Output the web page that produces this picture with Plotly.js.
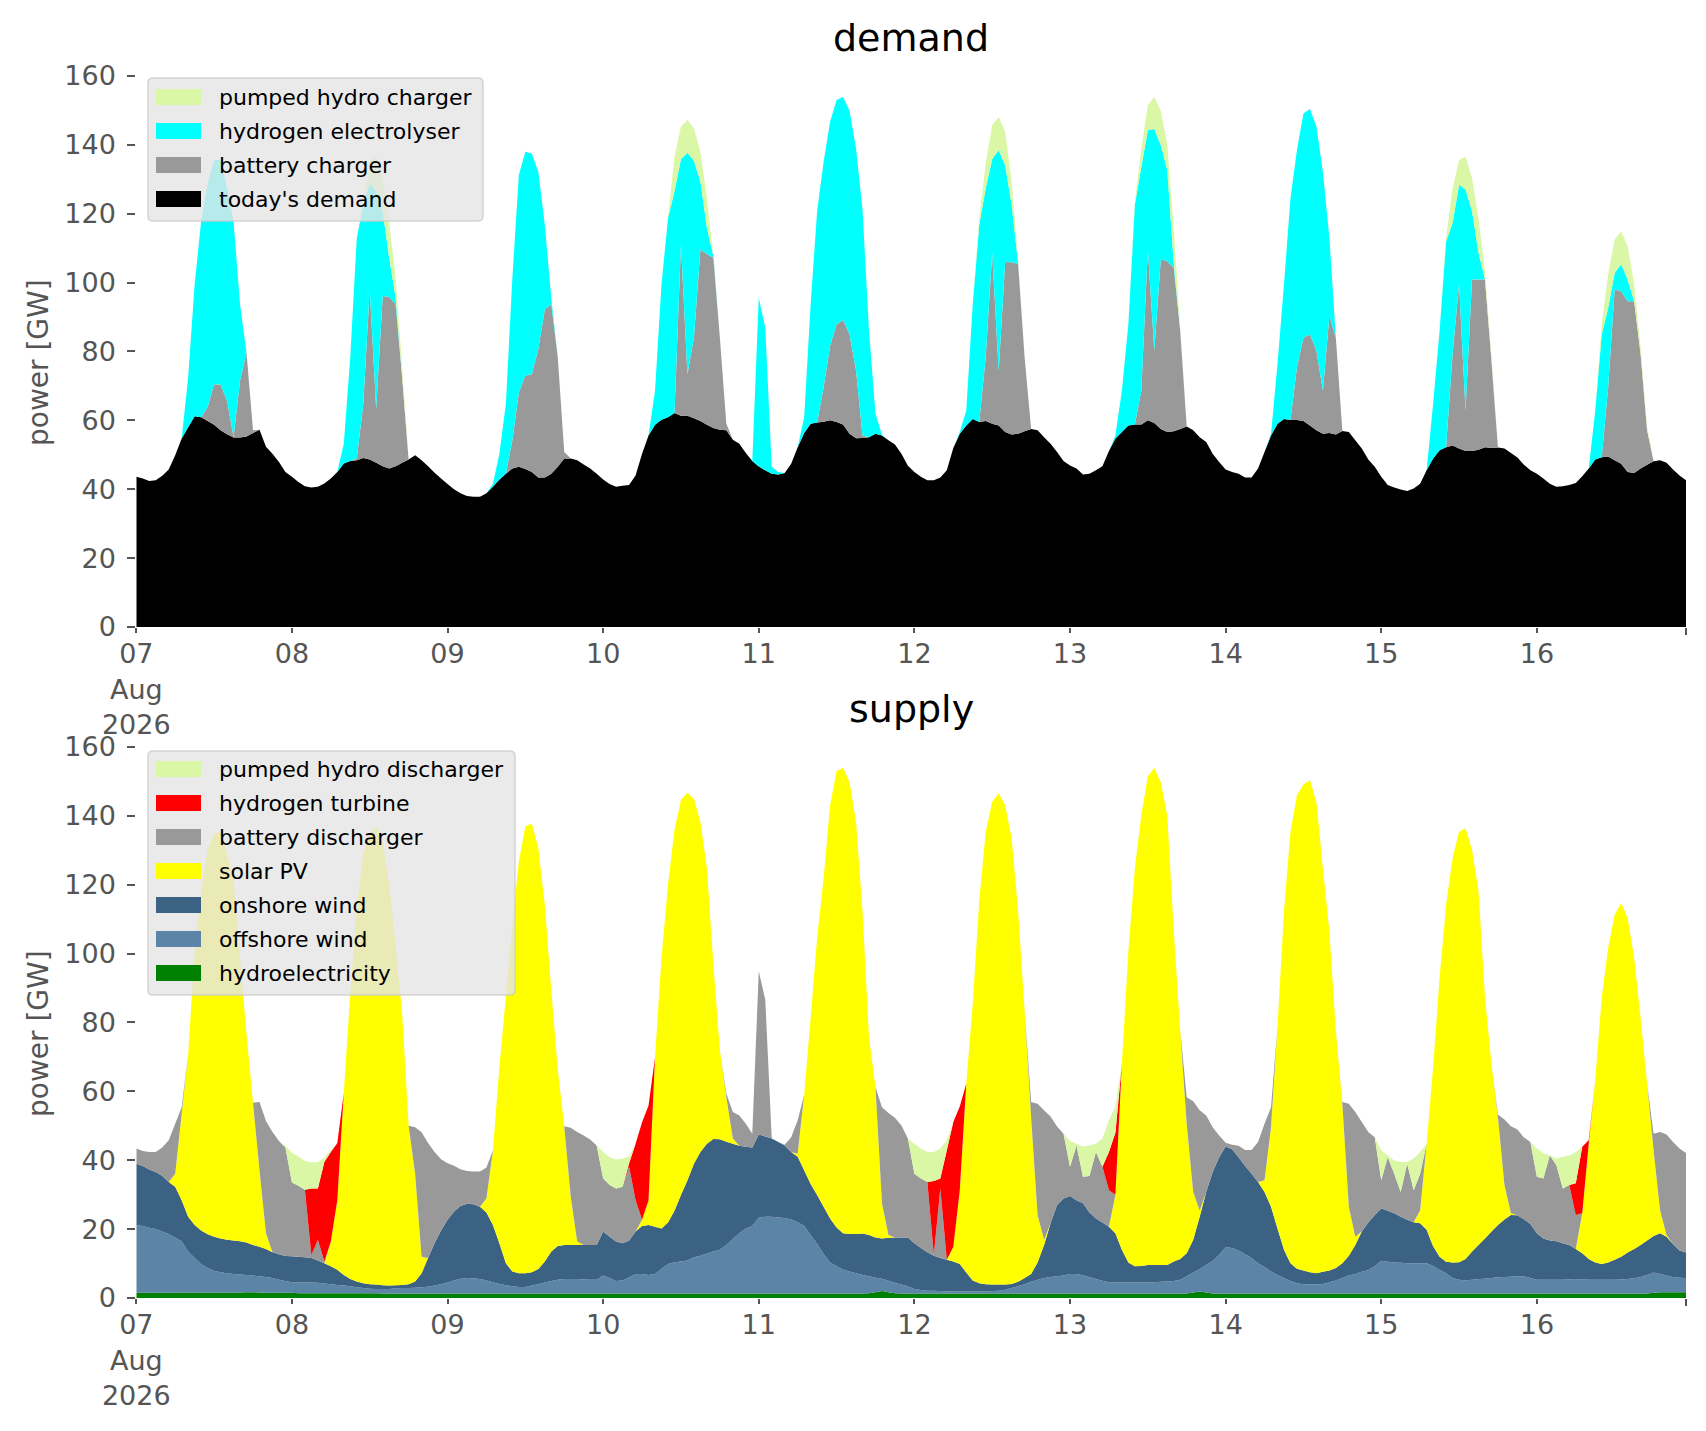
<!DOCTYPE html>
<html>
<head>
<meta charset="utf-8">
<script src="https://cdn.plot.ly/plotly-3.0.1.min.js"></script>
<style>
  html, body { margin: 0; padding: 0; background: #ffffff; }
  #chart { width: 1706px; height: 1431px; }
</style>
</head>
<body>
<div id="chart"></div>
<script>
// --- DATA: hourly values, 07 Aug 2026 00:00 .. 16 Aug 2026 23:00 (GW) ---
const startDay = '2026-08-07';
const dayTicks = ['2026-08-07', '2026-08-08', '2026-08-09', '2026-08-10', '2026-08-11',
                  '2026-08-12', '2026-08-13', '2026-08-14', '2026-08-15', '2026-08-16'];
const dayTickLabels = ['07<br>Aug<br>2026', '08', '09', '10', '11', '12', '13', '14', '15', '16'];
const yTicks = [0, 20, 40, 60, 80, 100, 120, 140, 160];

// demand side
const todaysDemand = [
  43.6,43.1,42.4,42.6,43.9,45.7,49.9,54.7,58.0,61.2,60.9,59.8,58.7,57.1,56.0,55.0,55.0,55.3,56.3,57.3,52.3,50.3,47.9,45.0,
  43.6,42.1,40.9,40.5,40.7,41.7,43.1,45.0,47.5,48.2,48.4,49.1,48.6,47.7,46.7,46.0,46.7,47.7,48.6,49.9,48.4,46.7,44.8,43.1,
  41.5,40.0,38.8,38.0,37.8,37.8,38.8,40.7,42.8,44.5,46.0,46.5,45.9,45.0,43.4,43.4,44.5,46.5,48.9,48.9,48.4,47.2,46.0,44.5,
  42.8,41.5,40.7,41.0,41.2,44.0,50.3,55.6,58.7,60.2,60.9,62.1,61.3,61.3,60.6,59.8,58.7,57.8,57.3,57.1,54.4,53.2,50.5,48.2,
  46.6,45.5,44.5,44.3,44.7,47.4,52.2,56.3,59.0,59.4,59.6,60.0,59.5,58.8,56.1,54.8,54.9,55.1,56.1,55.6,54.2,53.0,50.3,46.8,
  45.0,43.6,42.6,42.6,43.4,45.5,52.0,56.1,58.5,60.4,59.5,59.8,59.0,58.5,56.6,55.9,56.1,56.8,57.5,57.1,55.1,53.2,50.8,48.2,
  46.9,46.0,44.3,44.5,45.5,46.7,51.1,54.7,56.6,58.5,58.8,58.8,60.0,59.2,57.5,56.6,56.8,57.5,58.2,57.1,55.1,53.7,50.3,47.9,
  45.7,45.0,44.5,43.4,43.4,46.0,50.8,55.6,59.0,60.4,60.1,60.1,59.8,58.5,57.1,56.1,56.3,55.9,56.9,56.6,54.2,51.8,48.6,46.5,
  43.6,41.2,40.5,39.9,39.5,40.2,41.6,45.5,48.9,51.3,52.2,52.7,51.8,51.1,51.1,51.5,52.2,52.0,52.1,51.8,50.5,49.2,47.1,45.5,
  44.5,43.1,41.6,40.7,40.9,41.2,41.8,43.8,46.0,48.6,49.3,49.5,48.4,47.4,45.0,44.7,46.0,47.1,48.1,48.4,47.7,45.7,44.0,42.6
];
const batteryCharger = [
  0,0,0,0,0,0,0,0,0,0,0,4.0,11.8,13.2,9.7,0.2,16.5,24.4,0.8,0,0,0,0,0,
  0,0,0,0,0,0,0,0,0,0,0.5,15.5,49.4,15.6,49.4,49.8,47.0,24.8,0,0,0,0,0,0,
  0,0,0,0,0,0,0,0,0,0,8.2,21.6,27.1,28.4,37.3,48.8,49.2,31.8,1.9,0,0,0,0,0,
  0,0,0,0,0,0,0,0,0,0,0,0,49.7,12.1,23.4,49.8,49.6,49.4,26.7,1.9,0,0,0,0,
  0,0,0,0,0,0,0,0,0,0,10.0,21.6,28.4,30.3,28.9,19.6,0.7,0,0,0,0,0,0,0,
  0,0,0,0,0,0,0,0,0,0,0,18.5,49.6,15.9,49.4,50.0,49.3,21.5,0,0,0,0,0,0,
  0,0,0,0,0,0,0,0,0,0,0,9.8,49.6,21.0,49.2,49.6,47.5,28.5,0,0,0,0,0,0,
  0,0,0,0,0,0,0,0,0,0,0,15.3,24.2,26.5,23.1,12.5,34.0,28.1,0,0,0,0,0,0,
  0,0,0,0,0,0,0,0,0,0,0,26.5,47.7,11.7,49.8,49.4,48.7,25.3,0,0,0,0,0,0,
  0,0,0,0,0,0,0,0,0,0,0,20.1,49.6,50.1,49.6,49.9,33.2,10.0,0,0,0,0,0,0
];
const hydrogenElectrolyser = [
  0,0,0,0,0,0,0,0,14.5,38.3,56.9,65.0,65.1,65.3,61.7,62.6,22.2,0,0,0,0,0,0,0,
  0,0,0,0,0,0,0,0,5.7,30.1,64.0,58.0,30.9,63.2,24.6,11.4,2.0,0,0,0,0,0,0,0,
  0,0,0,0,0,0,0,0.9,7.5,20.3,47.2,63.2,65.0,64.1,51.5,24.6,1.9,0,0,0,0,0,0,0,
  0,0,0,0,0,0,0,0,9.9,39.3,57.8,64.4,24.9,64.3,51.3,19.7,7.6,0.5,0,0,0,0,0,0,
  49.0,41.4,2.0,0.7,0,0,0,4.6,34.7,61.3,65.5,65.1,65.1,64.8,64.8,64.6,65.6,30.9,5.8,0.2,0,0,0,0,
  0,0,0,0,0,0,0,0.5,4.3,33.3,57.3,49.1,27.3,64.1,28.0,16.7,0.3,0,0,0,0,0,0,0,
  0,0,0,0,0,0,0,0.9,12.0,29.4,63.8,65.0,34.7,64.4,33.1,26.5,1.4,0,0,0,0,0,0,0,
  0,0,0,0,0,0,0,0.5,17.3,39.1,64.4,63.1,65.1,65.4,65.1,63.6,22.7,0,0,0,0,0,0,0,
  0,0,0,0,0,0,0,0,15.9,34.7,59.8,38.1,28.9,64.2,19.8,7.7,0,0,0,0,0,0,0,0,
  0,0,0,0,0,0,0,0,0,14.2,35.7,23.1,4.8,7.8,6.3,0,0,0,0,0,0,0,0,0
];
const pumpedHydroCharger = [
  0,0,0,0,0,0,0,0,0,0,0,0,0,0,0,0,0,0,0,0,0,0,0,0,
  0,0,0,0,0,0,0,0,0,0,0,0,6.2,10.0,10.0,10.0,5.8,3.0,0,0,0,0,0,0,
  0,0,0,0,0,0,0,0,0,0,0,0,0,0,0,0,0,0,0,0,0,0,0,0,
  0,0,0,0,0,0,0,0,0,0,0,10.0,9.4,9.5,9.5,8.7,8.6,0,0,0,0,0,0,0,
  0,0,0,0,0,0,0,0,0,0,0,0,0,0,0,0,0,0,0,0,0,0,0,0,
  0,0,0,0,0,0,0,0,0,0,1.9,7.3,9.8,9.6,9.8,6.7,0.5,0,0,0,0,0,0,0,
  0,0,0,0,0,0,0,0,0,0,1.0,5.3,7.2,9.3,10.0,7.3,10.0,0.5,0,0,0,0,0,0,
  0,0,0,0,0,0,0,0,0,0,0,0,0,0,0,0,0,0,0,0,0,0,0,0,
  0,0,0,0,0,0,0,0,0,0,1.0,10.0,7.2,9.6,9.6,10.0,2.4,1.0,0,0,0,0,0,0,
  0,0,0,0,0,0,0,0,0,0,2.9,9.7,9.7,9.6,9.7,4.9,2.0,1.0,0,0,0,0,0,0
];

// supply side
const hydroelectricity = [
  1.5,1.5,1.5,1.5,1.5,1.5,1.6,1.6,1.6,1.6,1.6,1.6,1.6,1.6,1.6,1.6,1.6,1.7,1.7,1.6,1.5,1.5,1.5,1.5,
  1.5,1.4,1.4,1.4,1.4,1.4,1.4,1.4,1.4,1.4,1.4,1.4,1.4,1.4,1.3,1.3,1.3,1.3,1.3,1.3,1.3,1.3,1.3,1.3,
  1.3,1.3,1.3,1.3,1.3,1.3,1.3,1.3,1.3,1.3,1.3,1.3,1.3,1.3,1.3,1.3,1.3,1.3,1.3,1.3,1.3,1.3,1.3,1.3,
  1.3,1.3,1.3,1.3,1.3,1.3,1.3,1.3,1.3,1.3,1.3,1.3,1.3,1.3,1.3,1.3,1.3,1.3,1.3,1.3,1.3,1.3,1.3,1.3,
  1.3,1.3,1.3,1.3,1.3,1.3,1.3,1.3,1.3,1.3,1.3,1.3,1.3,1.3,1.3,1.3,1.3,1.4,1.7,2.0,1.7,1.4,1.3,1.3,
  1.3,1.3,1.3,1.3,1.3,1.3,1.3,1.3,1.3,1.3,1.3,1.3,1.3,1.3,1.3,1.3,1.3,1.3,1.3,1.3,1.3,1.3,1.3,1.3,
  1.3,1.3,1.3,1.3,1.3,1.3,1.3,1.3,1.3,1.3,1.3,1.3,1.3,1.3,1.3,1.3,1.3,1.3,1.3,1.6,1.9,1.6,1.3,1.3,
  1.3,1.3,1.3,1.3,1.3,1.3,1.3,1.3,1.3,1.3,1.3,1.3,1.3,1.3,1.3,1.3,1.3,1.3,1.3,1.3,1.3,1.3,1.3,1.3,
  1.3,1.3,1.3,1.3,1.3,1.3,1.3,1.3,1.3,1.3,1.3,1.3,1.3,1.3,1.3,1.3,1.3,1.3,1.3,1.3,1.3,1.3,1.3,1.3,
  1.3,1.3,1.3,1.3,1.3,1.3,1.3,1.3,1.3,1.3,1.3,1.3,1.3,1.3,1.3,1.3,1.3,1.3,1.5,1.7,1.7,1.7,1.7,1.7
];
const offshoreWind = [
  19.7,19.4,18.9,18.5,17.8,17.1,16.0,14.8,11.9,10.0,8.2,7.1,6.3,5.9,5.6,5.4,5.2,5.0,4.8,4.7,4.6,4.3,3.8,3.4,
  3.1,3.1,3.1,3.1,3.0,2.8,2.6,2.4,2.2,2.0,1.7,1.5,1.3,1.2,1.3,1.3,1.5,1.6,1.6,1.7,1.8,2.0,2.3,2.7,
  3.2,3.8,4.3,4.5,4.4,4.2,3.8,3.3,2.8,2.4,2.1,1.9,1.9,2.3,2.7,3.2,3.6,4.0,4.2,4.2,4.2,4.1,4.0,4.0,
  5.2,4.5,3.6,3.8,4.7,5.7,5.7,5.4,5.7,7.2,8.6,9.1,9.3,9.6,10.5,11.0,11.6,12.2,12.7,14.1,15.8,17.5,18.9,19.6,
  22.0,22.3,22.3,22.1,21.9,21.5,20.7,19.6,17.0,14.4,11.5,9.0,7.9,6.9,6.4,5.9,5.4,4.9,4.2,3.6,3.3,3.0,2.6,2.1,
  1.3,1.0,0.8,0.8,0.7,0.6,0.6,0.6,0.6,0.6,0.6,0.6,0.7,0.8,1.1,1.6,2.1,2.7,3.4,4.0,4.5,4.8,5.0,5.2,
  5.7,5.7,5.3,4.8,4.2,3.7,3.3,3.2,3.2,3.2,3.2,3.2,3.2,3.3,3.4,3.5,3.6,4.0,5.0,5.8,6.5,8.0,9.5,11.2,
  13.4,13.2,12.5,11.4,10.3,8.8,7.7,6.4,5.4,4.4,3.6,3.0,2.7,2.6,2.6,2.8,3.3,3.8,4.5,5.2,5.7,6.3,6.8,7.9,
  9.5,9.2,9.0,8.9,8.8,8.8,8.8,8.8,8.0,6.9,5.9,4.5,4.0,3.8,4.0,4.2,4.3,4.5,4.7,4.8,4.9,5.0,5.0,4.5,
  4.0,4.0,4.0,4.0,4.0,4.1,4.2,4.1,4.0,4.0,4.0,4.0,4.0,4.1,4.2,4.4,4.8,5.4,5.9,5.3,4.8,4.4,4.2,4.1
];
const onshoreWind = [
  17.8,17.4,16.9,16.6,16.1,15.1,14.7,12.0,10.1,9.6,9.8,9.8,9.9,9.8,9.7,9.7,9.7,9.4,8.9,8.6,8.1,7.5,7.4,7.3,
  7.5,7.5,7.3,7.1,6.5,5.9,5.2,4.4,3.1,2.1,1.7,1.4,1.3,1.3,1.1,1.0,0.9,0.9,1.1,1.8,4.1,8.3,12.3,15.6,
  18.2,20.0,21.1,21.6,21.5,21.0,19.7,16.6,11.8,6.4,4.3,4.0,4.0,3.9,4.4,6.1,8.6,9.8,9.9,9.9,9.9,10.0,10.1,10.1,
  12.8,12.0,11.5,10.8,10.7,12.3,13.9,14.5,13.7,11.7,12.0,14.9,19.3,23.3,27.2,30.1,31.9,32.7,32.1,30.0,27.7,25.4,23.7,22.8,
  24.2,23.3,22.7,21.9,21.1,19.6,19.0,16.2,14.8,14.2,13.7,12.8,11.3,10.6,10.9,11.4,12.0,12.0,11.7,11.7,12.5,13.2,13.7,14.2,
  13.3,12.2,11.2,10.2,9.6,9.2,8.7,8.0,5.5,3.2,2.4,2.1,1.9,1.8,1.5,1.2,1.3,1.8,2.3,5.0,9.6,15.6,20.7,22.4,
  22.6,21.4,20.9,18.7,17.6,16.9,16.1,14.3,9.5,5.8,4.7,4.8,5.1,5.0,4.9,4.8,5.7,6.0,6.7,9.5,15.2,21.2,25.8,28.4,
  29.3,28.7,27.1,25.6,24.5,23.6,21.8,18.8,13.5,8.3,5.2,4.2,4.0,3.6,3.3,3.5,3.4,3.6,4.3,5.8,8.4,11.7,13.8,14.9,
  15.2,14.8,14.3,13.4,12.6,11.9,11.6,9.7,5.7,3.8,3.3,4.5,5.1,6.2,8.2,9.9,11.7,13.5,15.2,16.7,17.9,17.7,16.6,15.7,
  13.5,12.0,11.4,11.2,10.6,10.0,8.7,7.6,6.0,5.0,4.6,5.0,5.8,6.6,7.7,8.5,9.3,10.0,10.6,11.8,11.3,9.6,7.9,7.4
];
const solarPV = [
  0,0,0,0,0,0,3.8,25.1,47.2,79.5,98.5,111.6,117.1,118.1,111.6,105.3,81.9,60.5,41.3,22.2,4.6,0,0,0,
  0,0,0,0,0,0,7.2,20.2,52.9,83.0,108.7,124.7,130.9,133.0,128.6,116.7,98.3,78.9,46.0,31.3,4.8,0,0,0,
  0,0,0,0,0,0,4.1,21.7,51.1,77.4,101.0,119.5,129.7,130.3,122.2,103.6,75.9,51.2,34.5,14.0,1.0,0,0,0,
  0,0,0,0,0,0,1.8,7.2,49.2,78.6,98.1,110.6,114.7,112.6,105.9,95.9,80.0,50.7,25.7,12.9,1.5,0,0,0,
  0,0,0,0,0,0,0.9,21.9,48.3,74.7,95.4,120.0,132.5,135.1,131.2,119.7,93.6,57.4,43.6,10.2,0.8,0,0,0,
  0,0,0,0,0,0,4.3,21.4,54.8,80.2,110.9,131.4,140.2,142.6,139.2,129.4,107.6,77.6,45.5,13.8,1.5,0,0,0,
  0,0,0,0,0,0,0,11.2,54.0,90.4,115.6,130.9,141.9,144.3,140.2,130.4,95.9,66.3,37.6,13.9,1.7,0,0,0,
  0,0,0,0,0,0,3.4,23.1,58.6,98.3,125.3,137.5,141.1,142.9,136.8,117.2,98.5,68.9,46.3,14.2,2.4,0,0,0,
  0,0,0,0,0,0,3.8,25.0,52.0,81.0,103.7,117.4,125.0,125.1,116.6,102.7,69.9,48.6,31.3,10.0,0.5,0,0,0,
  0,0,0,0,0,0,0,11.6,33.5,52.8,77.3,91.4,100.2,102.7,97.2,84.6,66.0,45.5,24.9,6.7,0.5,0,0,0
];
const batteryDischarger = [
  4.4,4.4,5.1,5.8,8.3,12.1,14.5,1.9,0,0,0,0,0,0,0,0,0,0,0,19.8,32.6,34.9,32.9,31.5,
  21.4,20.6,19.6,0.8,6.0,0.5,0,0,0,0,0,0,0,0,0,0,0,0,0,13.5,36.1,33.4,26.5,20.7,
  16.4,13.3,10.7,9.5,9.5,10.2,9.0,0,0,0,0,0,0,0,0,0,0,0,0,20.0,31.8,31.8,30.6,28.9,
  15.4,15.0,15.4,16.4,21.4,9.1,0,0,0,0,0,0,0,0,0,0,0,0,0,1.0,7.7,8.8,6.7,4.0,
  47.4,39.8,0,0,0.2,4.3,9.7,0,0,0,0,0,0,0,0,0,0,0,0,27.9,35.4,34.7,32.5,28.7,
  20.2,20.2,20.4,0.2,20.2,0,0,0,0,0,0,0,0,0,0,0,0,0,4.4,32.3,37.6,31.0,22.8,18.8,
  8.5,15.9,7.7,10.6,19.3,16.2,10.6,0,0,0,0,0,0,0,0,0,0,0,7.7,26.3,29.2,22.2,13.0,6.3,
  1.1,1.3,3.3,4.7,6.9,11.6,16.4,5.8,0,0,0,0,0,0,0,0,0,0,0.5,29.9,36.2,31.8,26.3,22.6,
  8.2,15.6,11.5,7.2,16.3,9.3,10.6,0,0,0,0,0,0,0,0,0,0,0,0.8,19.0,25.3,24.9,23.7,23.8,
  16.4,17.4,24.7,22.1,15.9,17.4,9.9,0,0,0,0,0,0,0,0,0,0,0,4.8,22.7,29.2,29.6,29.6,28.9
];
const hydrogenTurbine = [
  0,0,0,0,0,0,0,0,0,0,0,0,0,0,0,0,0,0,0,0,0,0,0,0,
  0,0,0,19.4,14.9,28.9,26.0,16.6,0,0,0,0,0,0,0,0,0,0,0,0,0,0,0,0,
  0,0,0,0,0,0,0,0,0,0,0,0,0,0,0,0,0,0,0,0,0,0,0,0,
  0,0,0,0,1.0,16.4,28.3,27.5,0,0,0,0,0,0,0,0,0,0,0,0,0,0,0,0,
  0,0,0,0,0,0,0,0,0,0,0,0,0,0,0,0,0,0,0,0,0,0,0,0,
  0,0,0,21.5,2.9,31.8,36.2,24.3,0,0,0,0,0,0,0,0,0,0,0,0,0,0,0,0,
  0,0,0,0,0,0,11.1,18.0,0,0,0,0,0,0,0,0,0,0,0,0,0,0,0,0,
  0,0,0,0,0,0,0,0,0,0,0,0,0,0,0,0,0,0,0,0,0,0,0,0,
  0,0,0,0,0,0,0,0,0,0,0,0,0,0,0,0,0,0,0,0,0,0,0,0,
  0,0,0,0,0,0,9.2,19.3,1.0,0,0,0,0,0,0,0,0,0,0,0,0,0,0,0
];
const pumpedHydroDischarger = [
  0,0,0,0,0,0,0,0,0,0,0,0,0,0,0,0,0,0,0,0,0,0,0,0.5,
  8.7,8.5,8.4,7.6,7.6,1.2,0.5,0,0,0,0,0,0,0,0,0,0,0,0,0,0,0,0,0,
  0,0,0,0,0,0,0,0,0,0,0,0,0,0,0,0,0,0,0,0,0,0,0,0,
  7.7,8.1,8.4,8.2,2.0,0,0,0,0,0,0,0,0,0,0,0,0,0,0,0,0,0,0,0,
  0,0,0,0,0,0,0,0,0,0,0,0,0,0,0,0,0,0,0,0,0,0,0,0,
  8.7,8.7,8.7,8.4,8.7,2.9,0,0,0,0,0,0,0,0,0,0,0,0,0,0,0,0,0,0,
  7.5,0.5,8.8,8.9,2.4,8.2,9.2,7.6,0,0,0,0,0,0,0,0,0,0,0,0,0,0,0,0,
  0,0,0,0,0,0,0,0,0,0,0,0,0,0,0,0,0,0,0,0,0,0,0,0,
  8.7,0.5,3.8,8.7,0.5,9.2,6.3,0,0,0,0,0,0,0,0,0,0,0,0,0,0,0,0,0,
  8.2,7.4,0,1.9,9.2,8.6,9.1,0,0,0,0,0,0,0,0,0,0,0,0,0,0,0,0,0
];

// --- LAYOUT HELPERS (figure pixels -> paper fractions) ---
const W = 1706, H = 1431;
const px = x => x / W;
const py = y => 1 - y / H;

// hourly time stamps
function stamp(h) {
    const d = new Date(Date.parse(startDay + 'T00:00:00Z') + h * 3600000);
    return d.toISOString().slice(0, 13).replace('T', ' ') + ':00';
}
const hours = todaysDemand.map((_, i) => stamp(i));

const colors = {
    pumped: '#DAF7A6',
    electrolyser: '#00FFFF',
    battery: '#999999',
    demand: '#000000',
    turbine: '#FF0000',
    solar: '#FFFF00',
    onshore: '#3B6183',
    offshore: '#5C84A7',
    hydro: '#008000'
};

function area(name, values, color, group, xa, ya) {
    return {
        type: 'scatter', x: hours, y: values, name: name,
        stackgroup: group, mode: 'none', fillcolor: color,
        line: { width: 0 }, xaxis: xa, yaxis: ya,
        showlegend: false, hoverinfo: 'skip'
    };
}

const traces = [
    area("today's demand", todaysDemand, colors.demand, 'dem', 'x', 'y'),
    area('battery charger', batteryCharger, colors.battery, 'dem', 'x', 'y'),
    area('hydrogen electrolyser', hydrogenElectrolyser, colors.electrolyser, 'dem', 'x', 'y'),
    area('pumped hydro charger', pumpedHydroCharger, colors.pumped, 'dem', 'x', 'y'),

    area('hydroelectricity', hydroelectricity, colors.hydro, 'sup', 'x2', 'y2'),
    area('offshore wind', offshoreWind, colors.offshore, 'sup', 'x2', 'y2'),
    area('onshore wind', onshoreWind, colors.onshore, 'sup', 'x2', 'y2'),
    area('solar PV', solarPV, colors.solar, 'sup', 'x2', 'y2'),
    area('battery discharger', batteryDischarger, colors.battery, 'sup', 'x2', 'y2'),
    area('hydrogen turbine', hydrogenTurbine, colors.turbine, 'sup', 'x2', 'y2'),
    area('pumped hydro discharger', pumpedHydroDischarger, colors.pumped, 'sup', 'x2', 'y2')
];

const tickFont = { family: 'DejaVu Sans', size: 27, color: '#555555' };
const xDomain = [px(136.3), px(1686)];

function xAxis(anchor) {
    return {
        domain: xDomain, anchor: anchor, type: 'date',
        range: [hours[0], hours[hours.length - 1]],
        tickmode: 'array', tickvals: dayTicks, ticktext: dayTickLabels,
        ticks: 'outside', ticklen: 5, tickwidth: 2, tickcolor: '#555555',
        minor: { tickmode: 'array', tickvals: [hours[hours.length - 1]], ticks: 'outside', ticklen: 7, tickwidth: 2, tickcolor: '#555555' },
        tickfont: tickFont, ticklabelstandoff: -2,
        showgrid: false, zeroline: false, showline: false
    };
}
function yAxis(anchor, domain) {
    return {
        domain: domain, anchor: anchor, range: [0, 163],
        tickmode: 'array', tickvals: yTicks,
        ticks: 'outside', ticklen: 8, tickwidth: 2, tickcolor: '#555555',
        tickfont: tickFont, ticklabelstandoff: 6,
        showgrid: false, zeroline: false, showline: false
    };
}

// --- LEGENDS (matplotlib-like boxes) ---
function roundRect(x0, y0, x1, y1, r) {
    const X = v => px(v).toFixed(5), Y = v => py(v).toFixed(5);
    return 'M' + X(x0 + r) + ',' + Y(y0) +
        ' L' + X(x1 - r) + ',' + Y(y0) + ' Q' + X(x1) + ',' + Y(y0) + ' ' + X(x1) + ',' + Y(y0 + r) +
        ' L' + X(x1) + ',' + Y(y1 - r) + ' Q' + X(x1) + ',' + Y(y1) + ' ' + X(x1 - r) + ',' + Y(y1) +
        ' L' + X(x0 + r) + ',' + Y(y1) + ' Q' + X(x0) + ',' + Y(y1) + ' ' + X(x0) + ',' + Y(y1 - r) +
        ' L' + X(x0) + ',' + Y(y0 + r) + ' Q' + X(x0) + ',' + Y(y0) + ' ' + X(x0 + r) + ',' + Y(y0) + ' Z';
}

const shapes = [];
const annotations = [];
function legendBox(box, firstRow, items) {
    shapes.push({
        type: 'path', xref: 'paper', yref: 'paper', layer: 'above',
        path: roundRect(box[0], box[1], box[2], box[3], 5),
        fillcolor: 'rgba(229,229,229,0.8)', line: { color: 'rgba(204,204,204,0.8)', width: 1.5 }
    });
    items.forEach((it, i) => {
        const cy = firstRow + i * 34;
        shapes.push({
            type: 'rect', xref: 'paper', yref: 'paper', layer: 'above',
            x0: px(156), x1: px(201), y0: py(cy + 8), y1: py(cy - 8),
            fillcolor: it[1], line: { width: 0 }
        });
        annotations.push({
            xref: 'paper', yref: 'paper', x: px(217), y: py(cy),
            xanchor: 'left', yanchor: 'middle', showarrow: false,
            text: it[0], font: { family: 'DejaVu Sans', size: 22, color: '#000000' }
        });
    });
}
legendBox([148, 78, 483, 221], 97, [
    ['pumped hydro charger', colors.pumped],
    ['hydrogen electrolyser', colors.electrolyser],
    ['battery charger', colors.battery],
    ["today's demand", colors.demand]
]);
legendBox([148, 751, 515, 995], 769, [
    ['pumped hydro discharger', colors.pumped],
    ['hydrogen turbine', colors.turbine],
    ['battery discharger', colors.battery],
    ['solar PV', colors.solar],
    ['onshore wind', colors.onshore],
    ['offshore wind', colors.offshore],
    ['hydroelectricity', colors.hydro]
]);

// panel titles and y labels
[['demand', 38], ['supply', 709]].forEach(t => annotations.push({
    xref: 'paper', yref: 'paper', x: px(911), y: py(t[1]),
    xanchor: 'center', yanchor: 'middle', showarrow: false,
    text: t[0], font: { family: 'DejaVu Sans', size: 38, color: '#000000' }
}));
[363, 1034].forEach(yc => annotations.push({
    xref: 'paper', yref: 'paper', x: px(38), y: py(yc),
    xanchor: 'center', yanchor: 'middle', showarrow: false, textangle: -90,
    text: 'power [GW]', font: { family: 'DejaVu Sans', size: 28, color: '#555555' }
}));

const layout = {
    width: W, height: H,
    margin: { l: 0, r: 0, t: 0, b: 0 },
    paper_bgcolor: '#ffffff', plot_bgcolor: '#ffffff',
    showlegend: false,
    font: { family: 'DejaVu Sans' },
    xaxis: xAxis('y'),
    yaxis: yAxis('x', [py(627), py(65.6)]),
    xaxis2: xAxis('y2'),
    yaxis2: yAxis('x2', [py(1298), py(736.6)]),
    shapes: shapes,
    annotations: annotations
};

Plotly.newPlot('chart', traces, layout, { displayModeBar: false, staticPlot: true });
</script>
</body>
</html>
